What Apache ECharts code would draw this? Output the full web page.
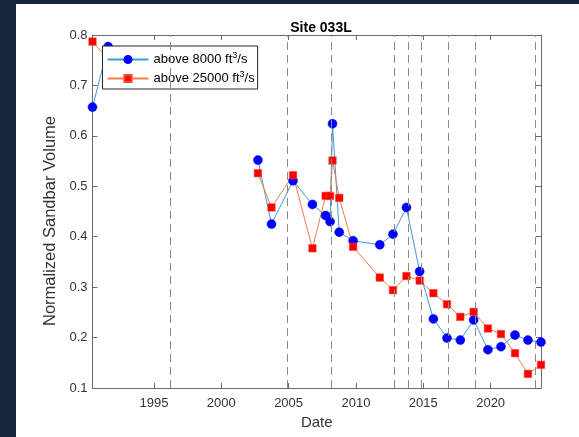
<!DOCTYPE html>
<html>
<head>
<meta charset="utf-8">
<script src="https://cdn.jsdelivr.net/npm/echarts@6/dist/echarts.min.js"></script>
<style>
  html, body { margin: 0; padding: 0; background: #fff; }
  #chart { width: 579px; height: 437px; }
</style>
</head>
<body>
<div id="chart"></div>
<script>
// survey dates (decimal years); null marks the break in the record
const surveyYears = [1990.44, 1991.6, null, 2002.72, 2003.73, 2005.33, 2006.77, 2007.75, 2008.08, 2008.26,
  2008.76, 2009.79, 2011.77, 2012.75, 2013.75, 2014.73, 2015.75, 2016.76, 2017.75, 2018.74,
  2019.8, 2020.77, 2021.81, 2022.77, 2023.74];
const above8000 = [0.657, 0.777, null, 0.552, 0.425, 0.511, 0.464, 0.442, 0.430, 0.624,
  0.409, 0.392, 0.384, 0.405, 0.458, 0.331, 0.237, 0.199, 0.195, 0.235,
  0.176, 0.182, 0.205, 0.195, 0.191];
const above25000 = [0.787, 0.752, null, 0.526, 0.458, 0.522, 0.377, 0.481, 0.481, 0.551,
  0.477, 0.380, 0.319, 0.294, 0.322, 0.313, 0.288, 0.266, 0.241, 0.251,
  0.218, 0.207, 0.169, 0.128, 0.146];
// high-flow experiments (dashed lines)
const hfeYears = [1996.19, 2004.9, 2008.2, 2012.88, 2013.87, 2014.84, 2016.87, 2018.87, 2023.3];
const yearTicks = [1995, 2000, 2005, 2010, 2015, 2020];

const FONT = 'Liberation Sans, Arial, Helvetica, sans-serif';
const AXIS_COLOR = '#6b6b6b';
const LABEL_COLOR = '#333333';
const X_MIN = 1990.44, X_MAX = 2023.74;

const pairs = vals => surveyYears.map((t, i) => [t == null ? '-' : t, vals[i] == null ? '-' : vals[i]]);

const xBase = {
  type: 'value', min: X_MIN, max: X_MAX,
  axisLine: { show: true, onZero: false, lineStyle: { color: AXIS_COLOR, width: 1 } },
  axisTick: { show: true, inside: true, length: 5, customValues: yearTicks, lineStyle: { color: AXIS_COLOR } },
  splitLine: { show: false },
};
const yBase = {
  type: 'value', min: 0.1, max: 0.8, interval: 0.1,
  axisLine: { show: true, lineStyle: { color: AXIS_COLOR, width: 1 } },
  axisTick: { show: true, inside: true, length: 5, lineStyle: { color: AXIS_COLOR } },
  splitLine: { show: false },
};

const chart = echarts.init(document.getElementById('chart'), null, { renderer: 'canvas' });
chart.setOption({
  animation: false,
  backgroundColor: '#ffffff',
  textStyle: { fontFamily: FONT },
  graphic: [
    { type: 'rect', shape: { x: 0, y: 0, width: 16, height: 437 }, style: { fill: '#13243d' }, z: 100 },
    { type: 'rect', shape: { x: 0, y: 0, width: 579, height: 4 }, style: { fill: '#13243d' }, z: 100 },
  ],
  title: {
    text: 'Site 033L',
    left: 316, top: 16, textAlign: 'center',
    textStyle: { fontFamily: FONT, fontSize: 14, fontWeight: 'bold', color: '#000' },
  },
  grid: { left: 92.5, top: 35, right: 38, bottom: 49, containLabel: false },
  legend: {
    left: 102.5, top: 46, orient: 'vertical',
    backgroundColor: '#fff', borderColor: '#262626', borderWidth: 1, borderRadius: 0,
    padding: [5, 3, 4, 4], itemGap: 4, itemWidth: 41, itemHeight: 9,
    formatter: name => name === 'a8' ? '{n|above 8000 ft}{s|3}{n|/s}' : '{n|above 25000 ft}{s|3}{n|/s}',
    textStyle: {
      fontFamily: FONT, color: '#000',
      rich: {
        n: { fontSize: 13, fontFamily: FONT, color: '#000' },
        s: { fontSize: 9, fontFamily: FONT, color: '#000', padding: [0, 0, 8, 0] },
      },
    },
  },
  xAxis: [
    {
      ...xBase, position: 'bottom',
      name: 'Date', nameLocation: 'middle', nameGap: 27,
      nameTextStyle: { fontFamily: FONT, fontSize: 15, color: LABEL_COLOR },
      axisLabel: {
        show: true, customValues: yearTicks, margin: 9, fontSize: 13, color: LABEL_COLOR, fontFamily: FONT,
        formatter: v => String(v),
      },
    },
    { ...xBase, position: 'top', axisLabel: { show: false } },
  ],
  yAxis: [
    {
      ...yBase, position: 'left',
      name: 'Normalized Sandbar Volume', nameLocation: 'middle', nameGap: 27,
      nameTextStyle: { fontFamily: FONT, fontSize: 16.5, color: LABEL_COLOR, padding: [0, 19, 0, 0] },
      axisLabel: { show: true, margin: 5, fontSize: 13, color: LABEL_COLOR, fontFamily: FONT, formatter: v => v.toFixed(1) },
    },
    { ...yBase, position: 'right', axisLabel: { show: false } },
  ],
  series: [
    {
      name: 'a8', type: 'line', data: pairs(above8000),
      symbol: 'circle', symbolSize: 9, showAllSymbol: true, connectNulls: false, clip: false,
      lineStyle: { color: '#3f9bd8', width: 1 },
      itemStyle: { color: '#0000ff', borderColor: '#0000ff', borderWidth: 0.5 },
      z: 3,
      markLine: {
        silent: true, symbol: ['none', 'none'], label: { show: false },
        lineStyle: { type: [8, 5], color: '#8a8a8a', width: 1 },
        emphasis: { disabled: true },
        data: hfeYears.map(x => ({ xAxis: x })),
      },
    },
    {
      name: 'a25', type: 'line', data: pairs(above25000),
      symbol: 'rect', symbolSize: 7.5, showAllSymbol: true, connectNulls: false, clip: false,
      lineStyle: { color: '#ee7f4f', width: 1 },
      itemStyle: { color: '#ff0000', borderColor: '#f04a2a', borderWidth: 0.5 },
      z: 3,
    },
  ],
});
</script>
</body>
</html>
